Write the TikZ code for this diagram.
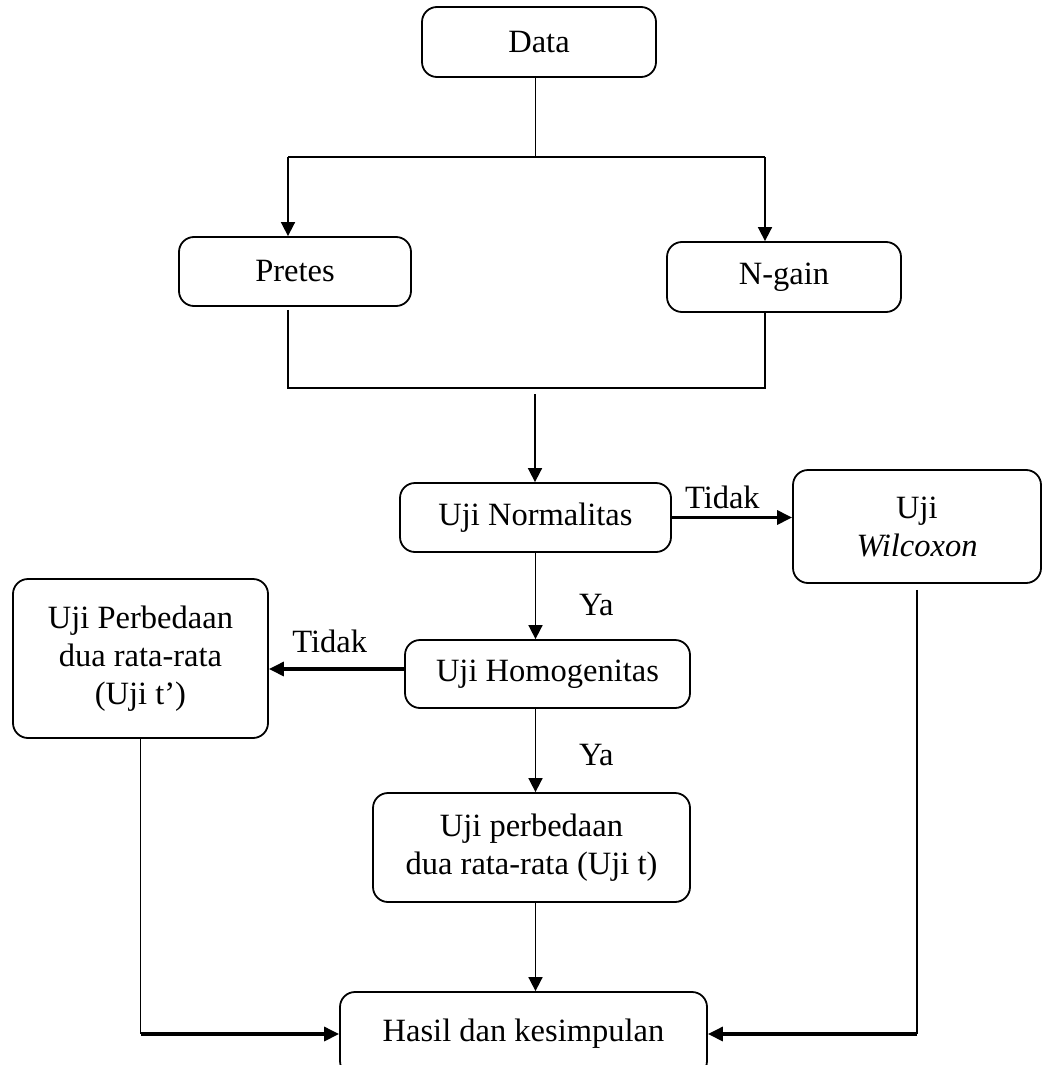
\documentclass[tikz,border=0pt]{standalone}
\usepackage{fontspec}
\setmainfont{Liberation Serif}
\usetikzlibrary{calc,positioning,arrows.meta}
\tikzset{
node distance=2cm, % overridden per node below
box/.style args={#1 by #2}{draw, rounded corners=7.5pt, line width=0.9pt, align=center,
    inner sep=0pt, minimum width=#1, minimum height=#2}, % rounded step box
link/.style={line width=0.65pt}, % plain joining line
arr/.style={line width=0.85pt, -{Triangle[length=7pt,width=7pt]}},
thickarr/.style={line width=1.6pt, -{Triangle[length=7.5pt,width=7pt]}},
}
\tikzset{
    between/.style args={#1 and #2}{
         at = ($(#1)!0.5!(#2)$)
    }
}
\begin{document}
\begin{tikzpicture}[x=0.5pt,y=-0.5pt,on grid,font=\fontsize{16.25pt}{19pt}\selectfont]
   \useasboundingbox (0,0) rectangle (1044,1065);
   \node[box=117pt by 35pt] (data) at (539,42) {Data};
   \node[box=116pt by 34.5pt] (pretes) [below left=114.75pt and 122pt of data] {Pretes};
   \node[box=117pt by 35pt] (ngain) [below right=117.5pt and 122.5pt of data] {N-gain};
   \node[box=135.5pt by 34.5pt] (normal) [below left=237.75pt and 1.75pt of data] {Uji Normalitas};
   \node[box=124pt by 56.5pt] (wilcox) [below right=4.5pt and 190.75pt of normal] {Uji\\\textit{Wilcoxon}};
   \node[box=142.5pt by 34pt] (homogen) [below right=78.25pt and 6pt of normal] {Uji Homogenitas};
   \node[box=127.5pt by 79.5pt] (ujitp) [above left=7.75pt and 203.5pt of homogen] {Uji Perbedaan\\dua rata-rata\\(Uji t’)};
   \node[box=158.5pt by 54.5pt] (ujit) [below left=86.75pt and 8pt of homogen] {Uji perbedaan\\dua rata-rata (Uji t)};
   \node[box=183.5pt by 42pt] (hasil) [below left=93.25pt and 4pt of ujit] {Hasil dan kesimpulan};
   % split and join points
   \coordinate[between=data.south and pretes.north] (split);
   \coordinate (join) at (535,388);
   \coordinate (lcol) at (288,0);
   \coordinate (rcol) at (765,0);
   \draw[link] (data.south -| normal.north) -- (split -| normal.north);
   \draw[link] (split -| lcol) -- (split -| rcol);
   \draw[arr] (split -| lcol) -- (pretes.north -| lcol);
   \draw[arr] (split -| rcol) -- (ngain.north -| rcol);
   \draw[link] ([yshift=-1.5pt]pretes.south -| lcol) |- (join -| rcol) -- (ngain.south -| rcol);
   \draw[arr] ([yshift=-3pt]join) -- (join |- normal.north);
   \draw[thickarr] (normal.east) -- node[above,pos=0.42] {Tidak} (normal.east -| wilcox.west);
   \draw[arr] (normal.south) -- node[right=18pt,pos=0.6] {Ya} (normal.south |- homogen.north);
   \draw[thickarr] ([yshift=2.5pt]homogen.west) -- node[above=4pt,pos=0.55] {Tidak} ([yshift=2.5pt]homogen.west -| ujitp.east);
   \draw[arr] (normal.south |- homogen.south) -- node[right=18pt,pos=0.55] {Ya} (normal.south |- ujit.north);
   \draw[arr] (normal.south |- ujit.south) -- (normal.south |- hasil.north);
   \draw[link] (ujitp.south) -- (ujitp.south |- hasil.west);
   \draw[thickarr] (ujitp.south |- hasil.west) -- (hasil.west);
   \draw[link] ([yshift=-3pt]wilcox.south) -- (wilcox.south |- hasil.east);
   \draw[thickarr] (wilcox.south |- hasil.east) -- (hasil.east);
\end{tikzpicture}
\end{document}
